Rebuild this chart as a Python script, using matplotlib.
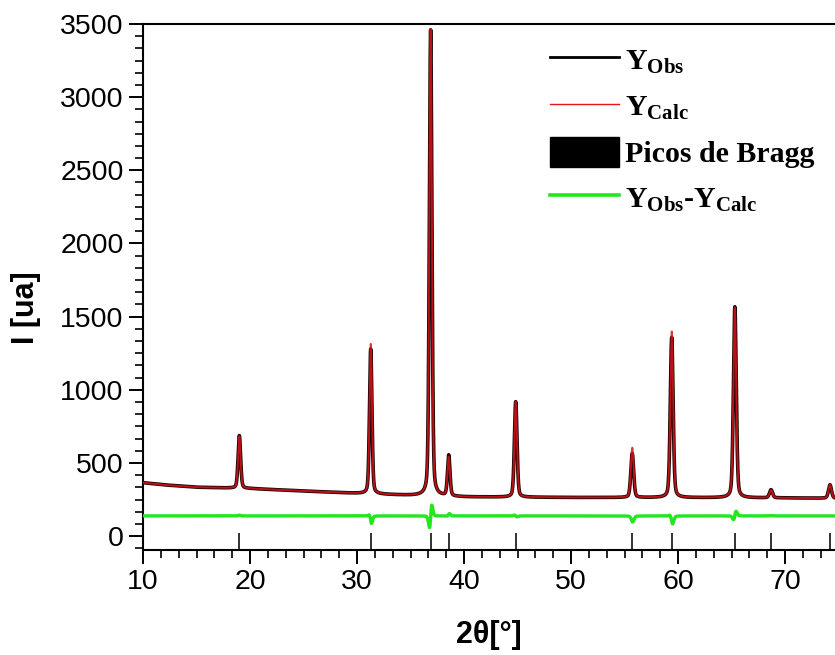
import numpy as np
import matplotlib
matplotlib.use("Agg")
import matplotlib.pyplot as plt
from matplotlib.lines import Line2D
from matplotlib.patches import Patch
from matplotlib.ticker import AutoMinorLocator

plt.rcParams["font.family"] = ["Liberation Sans", "DejaVu Sans"]
plt.rcParams["mathtext.fontset"] = "custom"
plt.rcParams["mathtext.rm"] = "Liberation Serif:bold"
plt.rcParams["mathtext.it"] = "Liberation Serif:bold"
plt.rcParams["mathtext.bf"] = "Liberation Serif:bold"

# Background level (counts) at selected 2theta positions
bg_tt = [10, 12, 15, 20, 25, 30, 35, 40, 50, 60, 70, 75]
bg_int = [365, 350, 334, 325, 308, 292, 278, 268, 264, 263, 261, 258]

# Observed reflections: position (deg), net height (counts), FWHM (deg)
obs_pos = [19.00, 31.28, 36.88, 38.57, 44.83, 55.72, 59.41, 65.31, 68.69, 74.20]
obs_h = [360, 990, 3185, 278, 652, 300, 1095, 1305, 55, 92]
obs_fwhm = [0.28, 0.27, 0.28, 0.27, 0.29, 0.31, 0.31, 0.31, 0.33, 0.33]

# Calculated reflections from the refinement
calc_pos = [19.00, 31.285, 36.875, 38.565, 44.832, 55.725, 59.415, 65.305, 68.69, 74.20]
calc_h = [355, 1025, 3190, 266, 652, 340, 1135, 1300, 53, 92]
calc_fwhm = [0.28, 0.27, 0.28, 0.27, 0.29, 0.31, 0.31, 0.31, 0.33, 0.33]

# Bragg reflection markers
bragg_pos = [19.00, 31.28, 36.88, 38.57, 44.83, 55.72, 59.41, 65.31, 68.69, 74.20]

diff_offset = 138
x_ticks = [10, 20, 30, 40, 50, 60, 70]
y_ticks = [0, 500, 1000, 1500, 2000, 2500, 3000, 3500]


def pattern(tt, pos, heights, fwhm, eta=0.3):
    y = np.interp(tt, bg_tt, bg_int).astype(float)
    for p, h, w in zip(pos, heights, fwhm):
        d = (tt - p) / (w / 2.0)
        gauss = np.exp(-np.log(2) * d ** 2)
        lor = 1.0 / (1.0 + d ** 2)
        y += h * (eta * lor + (1 - eta) * gauss)
    return y


tt = np.arange(10.0, 75.0, 0.005)
y_obs = pattern(tt, obs_pos, obs_h, obs_fwhm)
y_calc = pattern(tt, calc_pos, calc_h, calc_fwhm)
y_diff = y_obs - y_calc + diff_offset

fig = plt.figure(figsize=(8.35, 6.55), dpi=100)
ax = fig.add_axes([0.1713, 0.1603, 0.8287, 0.8031])

ax.plot(tt, y_obs, color="#1a0505", lw=2.6, zorder=3)
ax.plot(tt, y_calc, color="#d8141a", lw=1.4, zorder=4, alpha=0.85)
ax.plot(tt, y_diff, color="#22e61e", lw=2.4, zorder=3)
ax.vlines(bragg_pos, -95, 20, color="#222222", lw=1.3, zorder=2)

ax.set_xlim(10, 74.67)
ax.set_ylim(-95, 3500)

ax.xaxis.set_minor_locator(AutoMinorLocator(6))
ax.yaxis.set_minor_locator(AutoMinorLocator(6))
ax.set_xticks(x_ticks)
ax.set_yticks(y_ticks)

ax.tick_params(axis="both", which="major", direction="out", length=10, width=1.4,
               labelsize=20.5, pad=4, colors="black")
ax.tick_params(axis="both", which="minor", direction="out", length=6, width=1.2)

for side in ("left", "bottom", "top"):
    ax.spines[side].set_linewidth(1.5)
ax.spines["right"].set_visible(False)

ax.set_xlabel("2θ[°]", fontsize=22, fontweight="bold", labelpad=18)
ax.set_ylabel("I [ua]", fontsize=22, fontweight="bold")
ax.yaxis.set_label_coords(-0.147, 0.46)

handles = [
    Line2D([], [], color="black", lw=2.0),
    Line2D([], [], color="#e8141c", lw=1.0),
    Patch(facecolor="black", edgecolor="black"),
    Line2D([], [], color="#22e61e", lw=2.6),
]
labels = [
    r"$\mathrm{Y}_{\mathrm{Obs}}$",
    r"$\mathrm{Y}_{\mathrm{Calc}}$",
    "Picos de Bragg",
    r"$\mathrm{Y}_{\mathrm{Obs}}$-$\mathrm{Y}_{\mathrm{Calc}}$",
]
leg = ax.legend(handles, labels, loc="upper left", bbox_to_anchor=(0.588, 0.96),
                frameon=False, handlelength=2.3, handleheight=1.15,
                handletextpad=0.2, labelspacing=0.5, borderpad=0, borderaxespad=0,
                prop={"family": "Liberation Serif", "weight": "bold", "size": 21.5})

fig.savefig("out.png", dpi=100)
